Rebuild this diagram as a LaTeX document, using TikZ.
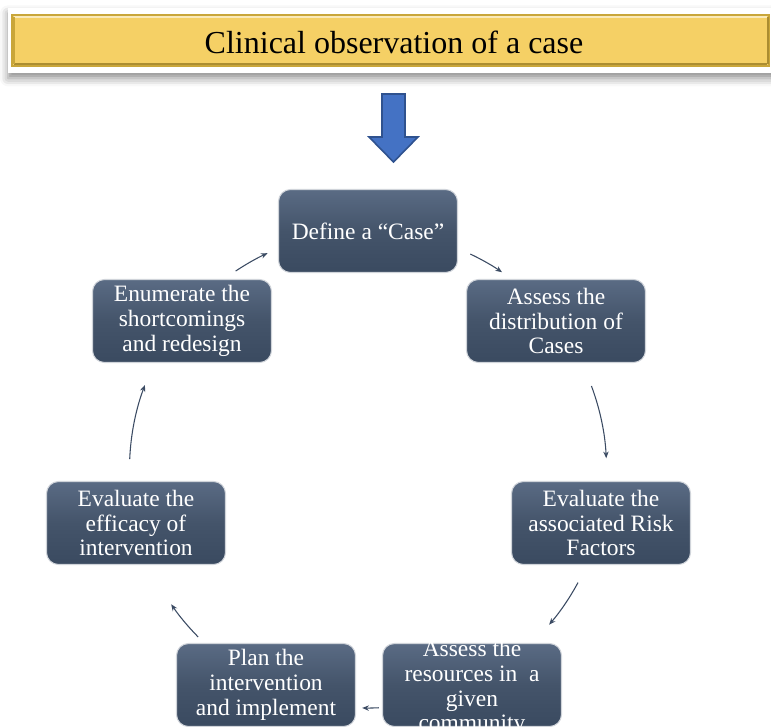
\documentclass[tikz,border=0pt]{standalone}
\usepackage{fontspec}
\setmainfont{Liberation Serif}
\usetikzlibrary{arrows.meta,calc,shadows.blur}
\definecolor{slate}{HTML}{44546A}
\definecolor{slatetop}{HTML}{5A6B84}
\definecolor{slatebot}{HTML}{3A4A60}
\definecolor{bar}{HTML}{F5D065}
\definecolor{barline}{HTML}{C9A63A}
\definecolor{arrowfill}{HTML}{4472C4}
\definecolor{arrowline}{HTML}{2F528F}
\definecolor{conn}{HTML}{3B4B63}
\tikzset{
  stepbox/.style={rounded corners=9pt, minimum width=134.25pt, minimum height=62.25pt,
    top color=slatetop, bottom color=slatebot, middle color=slate,
    draw=white!75!slate, line width=0.8pt, text=white, align=center,
    font=\fontsize{17.6pt}{18.6pt}\selectfont, inner sep=1pt},
  cyc/.style={draw=conn, line width=0.8pt, -{Stealth[length=5pt,width=4pt]}}
}
\begin{document}
\begin{tikzpicture}[x=0.75pt,y=-0.75pt]
\useasboundingbox (0,0) rectangle (771,727);
\begin{scope}
\clip (0,0) rectangle (771,727);
% title
\path[fill=white, blur shadow={shadow xshift=0pt, shadow yshift=-4pt, shadow blur radius=6pt, shadow opacity=45}]
  (8,8) rectangle (790,73);
\node[draw=barline, line width=0.8pt, fill=bar, minimum width=567.75pt, minimum height=38.25pt,
  inner sep=0pt] (title) at (390.5,40.5) {};
\draw[white!55!bar, line width=2pt] (14,17) -- (767,17);
\draw[barline!85!black, line width=2pt] (14,64) -- (767,64);
\draw[barline, line width=1.5pt] (13.5,17) -- (13.5,64);
\draw[barline!85!black, line width=1.5pt] (767.5,17) -- (767.5,64);
\node[font=\fontsize{24pt}{26pt}\selectfont, inner sep=0pt] (titletext) at (394,42) {Clinical observation of a case};
% down arrow
\draw[fill=arrowfill, draw=arrowline, line width=1.2pt]
  (382,94) -- (405,94) -- (405,137) -- (418,137) -- (393.5,162) -- (369,137) -- (382,137) -- cycle;
% boxes
\node[stepbox] (n1) at (368,231) {Define a “Case”};
\node[stepbox] (n2) at (556,321) {Assess the\\distribution of\\Cases};
\node[stepbox] (n3) at (601,523) {Evaluate the\\associated Risk\\Factors};
\node[stepbox] (n4) at (472,685) {};
\node[text=white, align=center, font=\fontsize{17.6pt}{18.6pt}\selectfont, inner sep=1pt] (n4t) at (472,688) {Assess the\\resources in\ \ a\\given\\community};
\node[stepbox] (n5) at (266,685) {Plan the\\intervention\\and implement};
\node[stepbox] (n6) at (136,523) {Evaluate the\\efficacy of\\intervention};
\node[stepbox] (n7) at (182,321) {Enumerate the\\shortcomings\\and redesign};
% connectors on the circle
\coordinate (c) at (368,469.5);
\foreach \s/\e/\nm in {64.6/55.8/a1, 20.5/2.7/a2, -28.3/-40.6/a3, -87.4/-91.4/a4,
  -135.4/-145.6/a5, 177.5/159.25/a6, 123.7/114.9/a7}{
  \coordinate (\nm) at ($(c)+(\s:178.9pt)$);
  \draw[cyc] (\nm) arc[start angle=\s, end angle=\e, radius=178.9pt];
}
\end{scope}
\end{tikzpicture}
\end{document}
